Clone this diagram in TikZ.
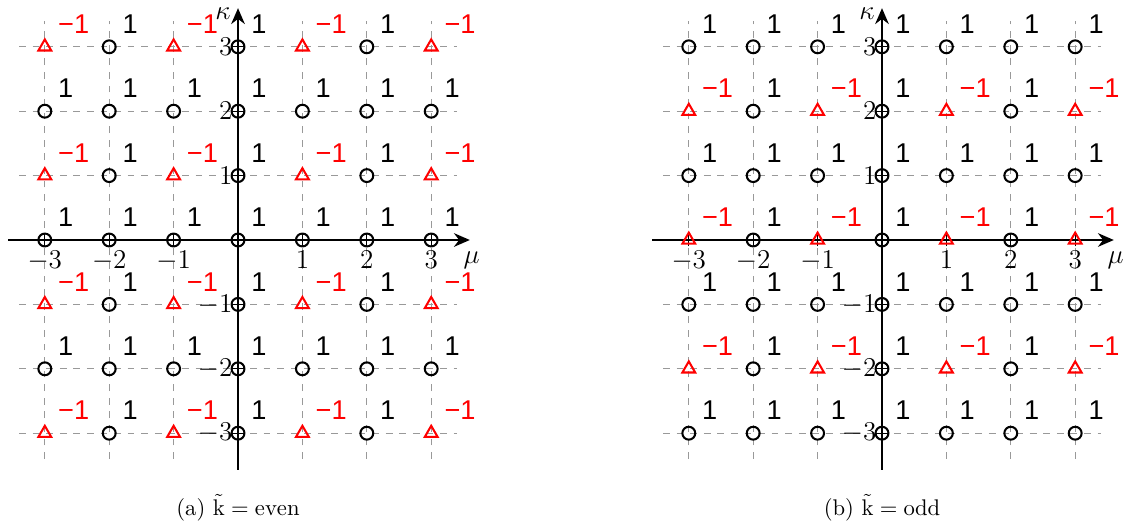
\documentclass[tikz,border=0pt]{standalone}
\usepackage{fontspec}
\usetikzlibrary{shapes.geometric,arrows.meta}
\newfontfamily\labfont{Liberation Sans}
\begin{document}
\begin{tikzpicture}[
  gridline/.style={black!40, dashed, line width=0.5pt},
  axisline/.style={black, line width=1.1pt, -{Stealth[length=7pt,width=6pt]}},
  tickline/.style={black, line width=0.6pt},
  ptc/.style={circle, draw=black, line width=0.9pt, minimum size=0.2cm, inner sep=0pt},
  ptt/.style={regular polygon, regular polygon sides=3, draw=red, line width=0.9pt, minimum size=0.23cm, inner sep=0pt},
  lab/.style={anchor=south west, inner sep=0pt, font=\labfont\fontsize{12}{14}\selectfont},
  ticklab/.style={inner sep=0pt, font=\fontsize{12.5}{14}\selectfont},
  axlab/.style={inner sep=0pt, font=\fontsize{13}{15}\selectfont},
  captext/.style={font=\normalsize}
]
\useasboundingbox (-3.696,-4.441) rectangle (13.96,3.727);
\foreach \pan/\ox/\pp/\cp in {a/0/0/{(a) $\tilde{\mathrm{k}}=\mathrm{even}$}, b/10/1/{(b) $\tilde{\mathrm{k}}=\mathrm{odd}$}} {
  \begin{scope}[xshift=\ox cm]
    % grid
    \foreach \i in {-3,...,3} {
      \draw[gridline] (-3.4,\i) -- (3.4,\i);
      \draw[gridline] (\i,-3.4) -- (\i,3.4);
    }
    % axes
    \coordinate (\pan xl) at (-3.57,0);
    \coordinate (\pan xr) at (3.6,0);
    \coordinate (\pan yb) at (0,-3.57);
    \coordinate (\pan yt) at (0,3.6);
    \draw[axisline] (\pan xl) -- (\pan xr);
    \draw[axisline] (\pan yb) -- (\pan yt);
    \node[axlab, anchor=east] (\pan kap) at ([xshift=-3pt,yshift=-2.5pt]\pan yt) {$\kappa$};
    \node[axlab, anchor=north west] (\pan mu) at ([xshift=-3pt,yshift=-5pt]\pan xr) {$\mu$};
    % ticks
    \foreach \i in {-3,-2,-1,1,2,3} {
      \draw[tickline] (\i,-0.1) -- (\i,0.1);
      \draw[tickline] (-0.1,\i) -- (0.1,\i);
      \node[ticklab, anchor=north] (\pan tx\i) at (\i,-0.16) {$\i$};
      \node[ticklab, anchor=east] (\pan ty\i) at (-0.08,\i) {$\i$};
    }
    % points
    \foreach \m in {-3,...,3} {
      \foreach \k in {-3,...,3} {
        \pgfmathtruncatemacro\tri{((mod(abs(\m),2)==1) && (mod(abs(\k)+\pp,2)==1)) ? 1 : 0}
        \pgfmathtruncatemacro\mi{\m+3}
        \pgfmathtruncatemacro\ki{\k+3}
        \ifnum\tri=1
          \node[ptt] (\pan p\mi\ki) at (\m,\k) {};
          \node[lab, text=red] (\pan l\mi\ki) at ({\m+0.2},{\k+0.2}) {−1};
        \else
          \node[ptc] (\pan p\mi\ki) at (\m,\k) {};
          \node[lab] (\pan l\mi\ki) at ({\m+0.2},{\k+0.2}) {1};
        \fi
      }
    }
    \node[captext] (\pan cap) at (0,-4.16) {\cp};
  \end{scope}
}
\end{tikzpicture}
\end{document}
